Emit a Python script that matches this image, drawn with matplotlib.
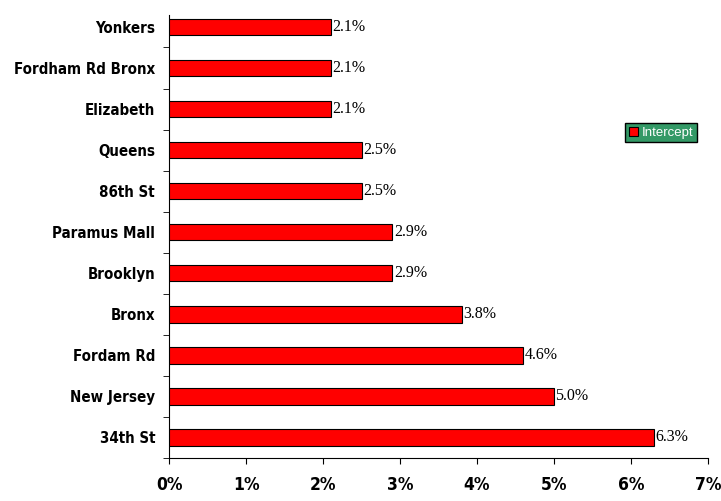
import matplotlib.pyplot as plt
import matplotlib.ticker as mtick
import numpy as np

stores = ['34th St', 'New Jersey', 'Fordam Rd', 'Bronx', 'Brooklyn', 'Paramus Mall',
          '86th St', 'Queens', 'Elizabeth', 'Fordham Rd Bronx', 'Yonkers']
intercept = [6.3, 5.0, 4.6, 3.8, 2.9, 2.9, 2.5, 2.5, 2.1, 2.1, 2.1]

fig = plt.figure(figsize=(7.21, 5.01), dpi=100)
ax = fig.add_axes([0.2344, 0.0858, 0.7476, 0.8842])

y = np.arange(len(stores))
bars = ax.barh(y, intercept, height=0.4, color='#ff0000', edgecolor='black',
               linewidth=0.8, label='Intercept', zorder=3)

for yi, v in zip(y, intercept):
    ax.text(v + 0.02, yi, f'{v:.1f}%', va='center', ha='left',
            family='Liberation Serif', fontsize=11.5)

ax.set_xlim(0, 7)
ax.set_ylim(-0.5, 10.29)
ax.xaxis.set_major_locator(mtick.MultipleLocator(1))
ax.xaxis.set_major_formatter(mtick.FormatStrFormatter('%.0f%%'))

ax.set_yticks(y)
ax.set_yticklabels(stores)
ax.set_yticks(np.arange(-0.5, 10.5, 1.0), minor=True)
ax.tick_params(axis='y', which='major', length=0, pad=10)
ax.tick_params(axis='y', which='minor', length=4, direction='out')
ax.tick_params(axis='x', length=4, direction='out', pad=9)

for lab in ax.get_yticklabels() + ax.get_xticklabels():
    lab.set_family('DejaVu Sans')
    lab.set_fontweight('bold')
    lab.set_fontstretch('condensed')
for lab in ax.get_yticklabels():
    lab.set_fontsize(10.8)
for lab in ax.get_xticklabels():
    lab.set_fontsize(12.5)

ax.spines['top'].set_visible(False)
ax.spines['right'].set_visible(False)

leg = ax.legend(loc='center', bbox_to_anchor=(0.913, 0.734), fancybox=False,
                facecolor='#339966', edgecolor='black', framealpha=1,
                prop={'family': 'Liberation Sans', 'size': 9.5},
                handlelength=0.7, handleheight=0.7, handletextpad=0.3,
                borderpad=0.25, borderaxespad=0)
for t in leg.get_texts():
    t.set_color('white')

plt.savefig('out.png', dpi=100)
plt.close()
